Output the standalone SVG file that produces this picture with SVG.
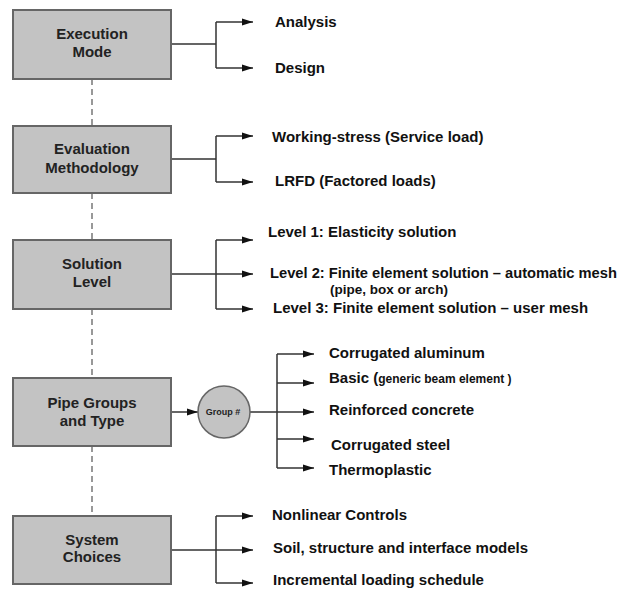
<svg xmlns="http://www.w3.org/2000/svg" width="624" height="590" viewBox="0 0 624 590">
<defs>
<style>
.box{fill:#c3c3c3;stroke:#666;stroke-width:2}
.bt{font-family:"Liberation Sans",Arial,sans-serif;font-weight:bold;font-size:15px;fill:#222;text-anchor:middle}
.lt{font-family:"Liberation Sans",Arial,sans-serif;font-weight:bold;font-size:15px;fill:#111}
.sm{font-size:12px}
.ln{fill:none;stroke:#333;stroke-width:1.5}
.ar{fill:none;stroke:#333;stroke-width:1.5;marker-end:url(#ah)}
.dash{fill:none;stroke:#777;stroke-width:1.5;stroke-dasharray:6,4}
</style>
<marker id="ah" viewBox="0 0 11 8" refX="11" refY="4" markerWidth="11" markerHeight="8" markerUnits="userSpaceOnUse" orient="auto">
<path d="M0,0.5 L11,4 L0,7.5 Z" fill="#111"/>
</marker>
</defs>
<rect width="624" height="590" fill="#fff"/>
<g id="connectors">
<path class="dash" d="M92,79 V126 M92,193 V240 M92,309 V378 M92,446 V516"/>
<path class="ln" d="M171,44 H216 M216,22 V68"/>
<path class="ar" d="M216,22 H253"/><path class="ar" d="M216,68 H253"/>
<path class="ln" d="M171,159 H216 M216,136 V182"/>
<path class="ar" d="M216,136 H253"/><path class="ar" d="M216,182 H253"/>
<path class="ln" d="M171,274 H216 M216,240 V309"/>
<path class="ar" d="M216,240 H253"/><path class="ar" d="M216,274 H253"/><path class="ar" d="M216,309 H253"/>
<path class="ar" d="M171,412 H198"/>
<path class="ln" d="M250,412 H277 M277,354 V468"/>
<path class="ar" d="M277,354 H314"/><path class="ar" d="M277,383 H314"/><path class="ar" d="M277,412 H314"/><path class="ar" d="M277,439 H314"/><path class="ar" d="M277,468 H314"/>
<path class="ln" d="M171,550 H216 M216,516 V583"/>
<path class="ar" d="M216,516 H253"/><path class="ar" d="M216,550 H253"/><path class="ar" d="M216,583 H253"/>
</g>
<g id="execution-mode"><rect class="box" x="13" y="10" width="158" height="69"/><text class="bt" x="92" y="39">Execution</text><text class="bt" x="92" y="57">Mode</text></g>
<g id="evaluation-methodology"><rect class="box" x="13" y="126" width="158" height="67"/><text class="bt" x="92" y="154">Evaluation</text><text class="bt" x="92" y="173">Methodology</text></g>
<g id="solution-level"><rect class="box" x="13" y="240" width="158" height="69"/><text class="bt" x="92" y="269">Solution</text><text class="bt" x="92" y="287">Level</text></g>
<g id="pipe-groups"><rect class="box" x="13" y="378" width="158" height="68"/><text class="bt" x="92" y="408">Pipe Groups</text><text class="bt" x="92" y="426">and Type</text></g>
<g id="system-choices"><rect class="box" x="13" y="516" width="158" height="68"/><text class="bt" x="92" y="545">System</text><text class="bt" x="92" y="562">Choices</text></g>
<g id="group-circle"><circle cx="224" cy="412" r="26" fill="#c3c3c3" stroke="#666" stroke-width="1.5"/><text class="bt" x="223" y="415" style="font-size:9px">Group #</text></g>
<g id="labels">
<text class="lt" x="275" y="27">Analysis</text>
<text class="lt" x="275" y="73">Design</text>
<text class="lt" x="272" y="142">Working-stress (Service load)</text>
<text class="lt" x="275" y="186">LRFD  (Factored loads)</text>
<text class="lt" x="268" y="237">Level 1: Elasticity solution</text>
<text class="lt" x="270" y="278" style="font-size:14.7px">Level 2: Finite element solution – automatic mesh</text>
<text class="lt" x="389" y="294" text-anchor="middle" style="font-size:13.5px">(pipe, box or arch)</text>
<text class="lt" x="273" y="313">Level 3: Finite element solution – user mesh</text>
<text class="lt" x="329" y="358">Corrugated aluminum</text>
<text class="lt" x="329" y="383">Basic (<tspan class="sm">generic beam element )</tspan></text>
<text class="lt" x="329" y="415">Reinforced concrete</text>
<text class="lt" x="331" y="450">Corrugated steel</text>
<text class="lt" x="329" y="475">Thermoplastic</text>
<text class="lt" x="272" y="520">Nonlinear Controls</text>
<text class="lt" x="273" y="553">Soil, structure and interface models</text>
<text class="lt" x="273" y="585">Incremental loading schedule</text>
</g>
</svg>
